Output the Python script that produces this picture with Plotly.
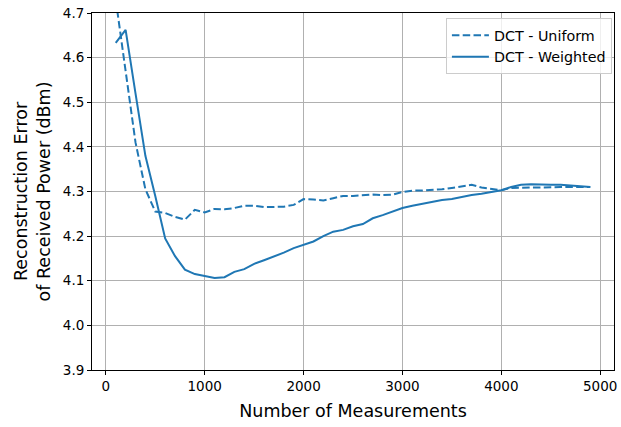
import plotly.graph_objects as go

measurements = [100, 200, 300, 400, 500, 600, 700, 800, 900, 1000,
                1100, 1200, 1300, 1400, 1500, 1600, 1700, 1800, 1900, 2000,
                2100, 2200, 2300, 2400, 2500, 2600, 2700, 2800, 2900, 3000,
                3100, 3200, 3300, 3400, 3500, 3600, 3700, 3800, 3900, 4000,
                4100, 4200, 4300, 4400, 4500, 4600, 4700, 4800, 4900]

dct_uniform = [4.73, 4.57, 4.41, 4.305, 4.255, 4.252, 4.243, 4.237, 4.259, 4.253,
               4.261, 4.260, 4.263, 4.268, 4.268, 4.265, 4.265, 4.266, 4.270, 4.283,
               4.282, 4.280, 4.285, 4.290, 4.290, 4.292, 4.293, 4.292, 4.293, 4.299,
               4.302, 4.302, 4.303, 4.305, 4.308, 4.312, 4.315, 4.309, 4.306, 4.303,
               4.308, 4.309, 4.309, 4.309, 4.310, 4.310, 4.310, 4.310, 4.310]

dct_weighted = [4.633, 4.662, 4.52, 4.38, 4.29, 4.195, 4.155, 4.125, 4.115, 4.110,
                4.106, 4.108, 4.120, 4.126, 4.138, 4.146, 4.154, 4.163, 4.173, 4.180,
                4.188, 4.200, 4.210, 4.214, 4.222, 4.227, 4.240, 4.247, 4.255, 4.263,
                4.268, 4.272, 4.276, 4.281, 4.283, 4.288, 4.292, 4.295, 4.299, 4.303,
                4.310, 4.315, 4.316, 4.315, 4.315, 4.315, 4.314, 4.312, 4.310]

x_ticks = [0, 1000, 2000, 3000, 4000, 5000]
y_ticks = [3.9, 4.0, 4.1, 4.2, 4.3, 4.4, 4.5, 4.6, 4.7]

color = "#1f77b4"
font_family = "DejaVu Sans"

fig = go.Figure()
fig.add_trace(go.Scatter(x=measurements, y=dct_uniform, mode="lines",
                         name="DCT - Uniform",
                         line=dict(color=color, width=2, dash="7.5px,3.3px")))
fig.add_trace(go.Scatter(x=measurements, y=dct_weighted, mode="lines",
                         name="DCT - Weighted",
                         line=dict(color=color, width=2)))

axis_common = dict(showline=True, linecolor="black", linewidth=1, mirror=True,
                   ticks="outside", ticklen=4, tickwidth=1, tickcolor="black",
                   showgrid=True, gridcolor="#b0b0b0", gridwidth=1,
                   zeroline=False, tickfont=dict(family=font_family, size=13.5, color="black"))

fig.update_xaxes(range=[-140, 5140], tickvals=x_ticks,
                 ticktext=[str(v) for v in x_ticks],
                 title=dict(text="Number of Measurements",
                            font=dict(family=font_family, size=17.5, color="black"),
                            standoff=11),
                 **axis_common)
fig.update_yaxes(range=[3.9, 4.7], tickvals=y_ticks,
                 ticktext=[f"{v:.1f}" for v in y_ticks],
                 title=dict(text="Reconstruction Error<br>of Received Power (dBm)",
                            font=dict(family=font_family, size=17.5, color="black"),
                            standoff=7),
                 **axis_common)

fig.update_layout(
    width=621, height=427,
    margin=dict(l=92, r=7, t=13, b=57, autoexpand=False),
    paper_bgcolor="white", plot_bgcolor="white",
    font=dict(family=font_family, color="black"),
    legend=dict(x=0.996, y=0.985, xanchor="right", yanchor="top",
                bgcolor="rgba(255,255,255,0.8)", bordercolor="#cccccc", borderwidth=1,
                font=dict(family=font_family, size=14.3, color="black"),
                tracegroupgap=0, itemwidth=37),
    showlegend=True,
)

fig.write_html("out.html")
